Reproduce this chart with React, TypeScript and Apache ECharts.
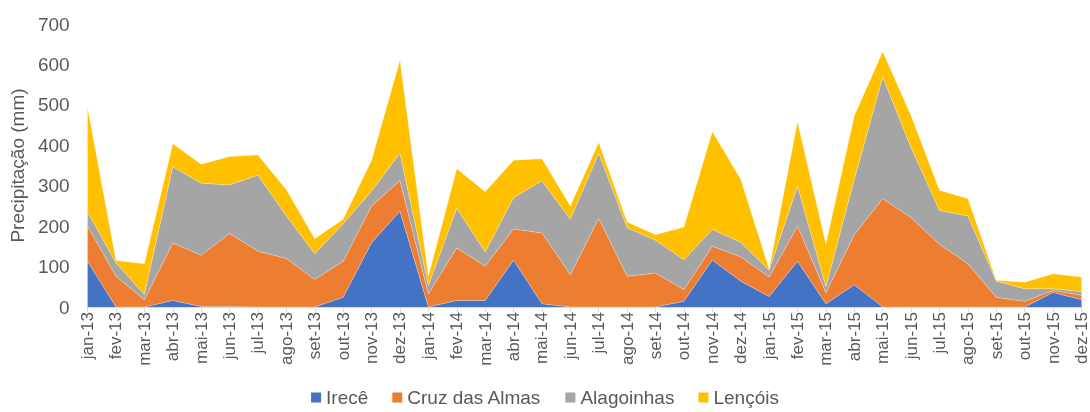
import React, { useEffect, useRef } from "react";
import * as echarts from "echarts";

const months = ["jan", "fev", "mar", "abr", "mai", "jun", "jul", "ago", "set", "out", "nov", "dez"];
const years = ["13", "14", "15"];
const categories: string[] = [];
years.forEach((y) => months.forEach((m) => categories.push(`${m}-${y}`)));

const irece = [113, 0, 0, 16, 1, 1, 0, 0, 0, 24, 159, 237, 0, 16, 16, 116, 8, 0, 0, 0, 0, 14, 116, 64, 26, 113, 8, 55, 0, 0, 0, 0, 0, 0, 36, 18];
const cruzDasAlmas = [87, 76, 18, 142, 127, 181, 138, 120, 68, 89, 91, 75, 32, 130, 85, 77, 175, 80, 219, 76, 84, 29, 34, 60, 48, 87, 27, 124, 268, 221, 155, 107, 24, 14, 5, 11];
const alagoinhas = [35, 33, 13, 189, 178, 120, 188, 105, 64, 93, 37, 68, 21, 98, 35, 77, 129, 137, 161, 120, 81, 74, 42, 36, 17, 99, 15, 137, 301, 173, 84, 118, 40, 31, 4, 9];
const lencois = [258, 6, 76, 57, 47, 70, 50, 65, 37, 11, 76, 231, 23, 98, 149, 93, 55, 33, 27, 14, 14, 81, 242, 156, 3, 159, 106, 157, 63, 79, 50, 43, 2, 16, 37, 36];

const seriesNames = ["Irecê", "Cruz das Almas", "Alagoinhas", "Lençóis"];
const seriesData = [irece, cruzDasAlmas, alagoinhas, lencois];
const colors = ["#4472C4", "#ED7D31", "#A5A5A5", "#FFC000"];
const yTicks = { min: 0, max: 700, interval: 100 };

export default function App() {
  const ref = useRef<HTMLDivElement>(null);
  useEffect(() => {
    if (!ref.current) return;
    const chart = echarts.init(ref.current, undefined, { renderer: "svg" });
    const font = "Arial, 'Liberation Sans', sans-serif";
    chart.setOption({
      animation: false,
      color: colors,
      textStyle: { fontFamily: font },
      grid: { left: 87, right: 6, top: 24, bottom: 105, containLabel: false },
      legend: {
        data: seriesNames,
        top: 388,
        left: "center",
        itemWidth: 10,
        itemHeight: 10,
        itemGap: 24,
        icon: "rect",
        padding: 0,
        textStyle: { fontSize: 19, color: "#595959", fontFamily: font },
      },
      xAxis: {
        type: "category",
        data: categories,
        boundaryGap: false,
        axisLine: { lineStyle: { color: "#D9D9D9", width: 1 } },
        axisTick: { show: true, length: 5, alignWithLabel: true, lineStyle: { color: "#D9D9D9" } },
        axisLabel: { rotate: 90, fontSize: 17, color: "#595959", margin: 5, interval: 0, fontFamily: font },
      },
      yAxis: {
        type: "value",
        min: yTicks.min,
        max: yTicks.max,
        interval: yTicks.interval,
        name: "Precipitação (mm)",
        nameLocation: "middle",
        nameGap: 60,
        nameTextStyle: { fontSize: 19, color: "#595959", fontFamily: font },
        axisLine: { show: false },
        axisTick: { show: false },
        splitLine: { show: false },
        axisLabel: { fontSize: 19, color: "#595959", margin: 18, fontFamily: font },
      },
      series: seriesNames.map((name, i) => ({
        name,
        type: "line",
        stack: "total",
        data: seriesData[i],
        showSymbol: false,
        symbol: "none",
        lineStyle: { width: 0.6, color: "rgba(255,255,255,0.5)" },
        areaStyle: { color: colors[i], opacity: 1 },
        itemStyle: { color: colors[i] },
      })),
    });
    return () => chart.dispose();
  }, []);
  return <div ref={ref} style={{ position: "fixed", left: 0, top: 0, width: 1090, height: 412 }} />;
}
